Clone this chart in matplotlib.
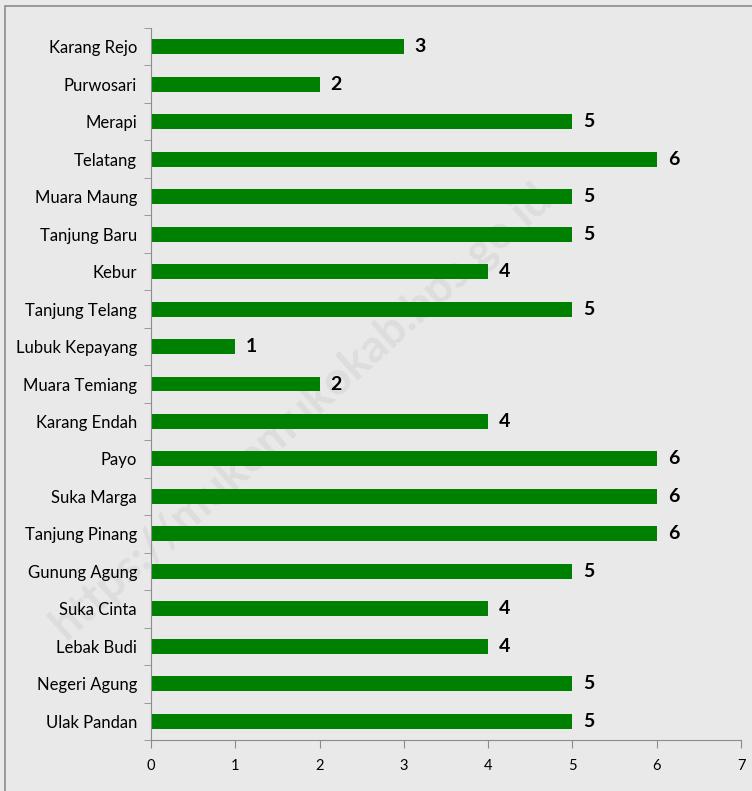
import numpy as np
import matplotlib.pyplot as plt
from matplotlib.patches import Rectangle

desa = ['Karang Rejo', 'Purwosari', 'Merapi', 'Telatang', 'Muara Maung',
        'Tanjung Baru', 'Kebur', 'Tanjung Telang', 'Lubuk Kepayang',
        'Muara Temiang', 'Karang Endah', 'Payo', 'Suka Marga',
        'Tanjung Pinang', 'Gunung Agung', 'Suka Cinta', 'Lebak Budi',
        'Negeri Agung', 'Ulak Pandan']
jumlah = [3, 2, 5, 6, 5, 5, 4, 5, 1, 2, 4, 6, 6, 6, 5, 4, 4, 5, 5]

plt.rcParams['font.family'] = ['Lato', 'DejaVu Sans']

fig = plt.figure(figsize=(7.52, 7.91), dpi=100)
fig.patch.set_facecolor('#e9e9e9')
fig.patches.append(Rectangle((5 / 752, -0.01), 1.0, 1 - 6 / 791 + 0.01,
                             transform=fig.transFigure, fill=False,
                             edgecolor='#8c8c8c', linewidth=1.2))

# faint watermark behind the chart
fig.text(0.40, 0.48, 'https://mukomukokab.bps.go.id', rotation=42,
         fontsize=33, fontweight='bold', color='#8a8a8a', alpha=0.13,
         ha='center', va='center', zorder=-1)

ax = fig.add_axes([151 / 752, 51 / 791, 590 / 752, 712 / 791])
ax.set_facecolor('none')

y = np.arange(len(desa))
ax.barh(y, jumlah, height=0.4, color='#008000')
for yi, v in zip(y, jumlah):
    ax.text(v + 0.13, yi, str(v), va='center', ha='left',
            fontsize=14, fontweight='bold', color='black')

ax.set_xlim(0, 7)
ax.set_ylim(len(desa) - 0.5, -0.5)
ax.set_xticks(range(8))
ax.set_yticks(y)
ax.set_yticklabels(desa, fontsize=12)
ax.set_yticks(np.arange(-0.5, len(desa), 1), minor=True)
ax.tick_params(axis='y', which='major', length=0, pad=10)
ax.tick_params(axis='y', which='minor', length=5, color='#8c8c8c', direction='out')
ax.tick_params(axis='x', length=6, color='#8c8c8c', direction='out', labelsize=10.5, pad=8)

for s in ['top', 'right']:
    ax.spines[s].set_visible(False)
for s in ['left', 'bottom']:
    ax.spines[s].set_color('#8c8c8c')

fig.savefig('out.png', dpi=100, facecolor=fig.get_facecolor())
